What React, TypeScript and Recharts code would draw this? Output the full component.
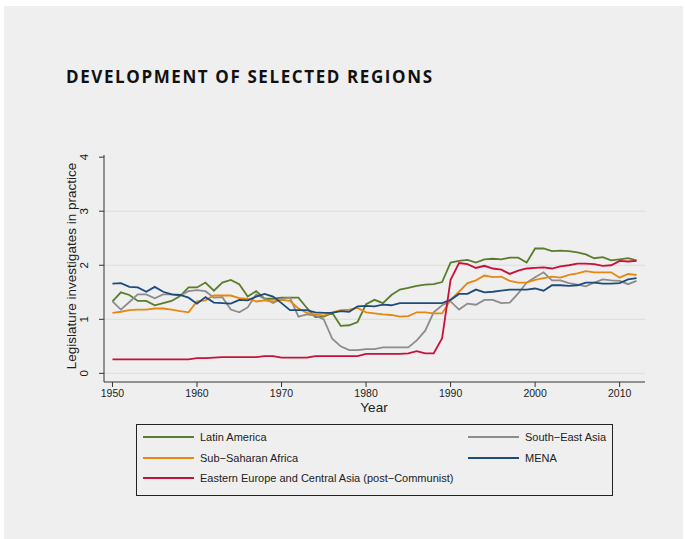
import React from "react"
import { LineChart, Line, XAxis, YAxis, ReferenceLine } from "recharts"

// categories
const years = [
  1950, 1951, 1952, 1953, 1954, 1955, 1956, 1957, 1958, 1959,
  1960, 1961, 1962, 1963, 1964, 1965, 1966, 1967, 1968, 1969,
  1970, 1971, 1972, 1973, 1974, 1975, 1976, 1977, 1978, 1979,
  1980, 1981, 1982, 1983, 1984, 1985, 1986, 1987, 1988, 1989,
  1990, 1991, 1992, 1993, 1994, 1995, 1996, 1997, 1998, 1999,
  2000, 2001, 2002, 2003, 2004, 2005, 2006, 2007, 2008, 2009,
  2010, 2011, 2012,
]

// series values, one per year
const latinAmerica = [
  1.33, 1.5, 1.45, 1.34, 1.34, 1.26, 1.3, 1.34, 1.43, 1.59,
  1.59, 1.68, 1.53, 1.68, 1.73, 1.65, 1.42, 1.52, 1.38, 1.38,
  1.4, 1.4, 1.4, 1.21, 1.04, 1.05, 1.12, 0.88, 0.89, 0.95,
  1.28, 1.36, 1.3, 1.45, 1.55, 1.58, 1.62, 1.64, 1.65, 1.69,
  2.05, 2.08, 2.1, 2.05, 2.11, 2.12, 2.11, 2.14, 2.14, 2.05,
  2.31, 2.31, 2.26, 2.27, 2.26, 2.24, 2.2, 2.13, 2.15, 2.09,
  2.11, 2.13, 2.09,
]
const southEastAsia = [
  1.33, 1.18, 1.32, 1.46, 1.46, 1.39, 1.46, 1.46, 1.44, 1.52,
  1.54, 1.52, 1.4, 1.41, 1.18, 1.13, 1.22, 1.46, 1.38, 1.3,
  1.38, 1.4, 1.05, 1.09, 1.07, 1.0, 0.64, 0.5, 0.43, 0.43,
  0.45, 0.45, 0.48, 0.48, 0.48, 0.48, 0.61, 0.79, 1.13, 1.26,
  1.33, 1.18, 1.29, 1.27, 1.36, 1.36, 1.3, 1.31, 1.48, 1.68,
  1.78, 1.87, 1.72, 1.72, 1.67, 1.64, 1.61, 1.68, 1.74, 1.72,
  1.71, 1.65, 1.71,
]
const subSaharanAfrica = [
  1.12, 1.14, 1.17, 1.18, 1.18, 1.2, 1.2, 1.18, 1.15, 1.13,
  1.33, 1.35, 1.44, 1.44, 1.44, 1.39, 1.38, 1.33, 1.35, 1.33,
  1.36, 1.34, 1.2, 1.12, 1.09, 1.07, 1.13, 1.17, 1.18, 1.21,
  1.13, 1.11, 1.09, 1.08, 1.05, 1.06, 1.13, 1.13, 1.11, 1.11,
  1.36, 1.51, 1.67, 1.72, 1.81, 1.78, 1.79, 1.71, 1.68, 1.68,
  1.73, 1.76, 1.79, 1.77, 1.82, 1.85, 1.89, 1.87, 1.87, 1.87,
  1.77, 1.84, 1.82,
]
const mena = [
  1.66, 1.67, 1.6, 1.59, 1.51, 1.6, 1.51, 1.46, 1.45, 1.4,
  1.29, 1.41, 1.31, 1.3, 1.29, 1.36, 1.35, 1.42, 1.47, 1.42,
  1.3, 1.17, 1.17, 1.17, 1.13, 1.12, 1.12, 1.15, 1.14, 1.24,
  1.25, 1.24, 1.27, 1.26, 1.3, 1.3, 1.3, 1.3, 1.3, 1.3,
  1.36, 1.47, 1.47, 1.55, 1.5, 1.51, 1.53, 1.55, 1.55, 1.55,
  1.57, 1.53, 1.63, 1.63, 1.62, 1.63, 1.68, 1.68, 1.66, 1.66,
  1.67, 1.74, 1.76,
]
const easternEurope = [
  0.26, 0.26, 0.26, 0.26, 0.26, 0.26, 0.26, 0.26, 0.26, 0.26,
  0.28, 0.28, 0.29, 0.3, 0.3, 0.3, 0.3, 0.3, 0.32, 0.32,
  0.29, 0.29, 0.29, 0.29, 0.32, 0.32, 0.32, 0.32, 0.32, 0.32,
  0.36, 0.36, 0.36, 0.36, 0.36, 0.37, 0.41, 0.37, 0.37, 0.65,
  1.73, 2.04, 2.02, 1.95, 1.99, 1.94, 1.92, 1.84, 1.9, 1.94,
  1.95, 1.96, 1.94, 1.98, 2.0, 2.03, 2.03, 2.02, 1.99, 2.0,
  2.08, 2.07, 2.08,
]

// tick labels
const xTicks = [1950, 1960, 1970, 1980, 1990, 2000, 2010]
const yTicks = [0, 1, 2, 3, 4]
const gridValues = [0, 1, 2, 3]

const series = [
  { key: "latin", name: "Latin America", values: latinAmerica, color: "#5a7d2c" },
  { key: "sea", name: "South\u2212East Asia", values: southEastAsia, color: "#8c8c8c" },
  { key: "ssa", name: "Sub\u2212Saharan Africa", values: subSaharanAfrica, color: "#e8870f" },
  { key: "mena", name: "MENA", values: mena, color: "#1c4b7c" },
  { key: "eeca", name: "Eastern Europe and Central Asia (post\u2212Communist)", values: easternEurope, color: "#c8103a" },
]

const data = years.map((year, i) => {
  const row: Record<string, number> = { year }
  series.forEach((s) => {
    row[s.key] = s.values[i]
  })
  return row
})

const axisFont = "'Liberation Sans', Arial, Helvetica, sans-serif"

const YTick = (props: any) => {
  const { x, y, payload } = props
  const tx = x - 11
  return (
    <text
      x={tx}
      y={y}
      transform={`rotate(-90 ${tx} ${y})`}
      textAnchor="middle"
      fontSize={11.5}
      fontFamily={axisFont}
      fill="#1a1a1a"
      stroke="none"
    >
      {payload.value}
    </text>
  )
}

const legendRows = [
  [series[0], series[1]],
  [series[2], series[3]],
  [series[4], null],
]

export default function App() {
  return (
    <div style={{ position: "absolute", left: 0, top: 0, width: 685, height: 539, background: "#fff" }}>
      <div style={{ position: "absolute", left: 4, top: 6, width: 679, height: 533, background: "#efefef" }} />
      <div
        style={{
          position: "absolute",
          left: 66,
          top: 65,
          fontFamily: "'Open Sans', sans-serif",
          fontWeight: 700,
          fontSize: 17,
          letterSpacing: 1.6,
          color: "#111",
          whiteSpace: "nowrap",
        }}
      >
        DEVELOPMENT OF SELECTED REGIONS
      </div>
      <div style={{ position: "absolute", left: 0, top: 0 }}>
        <LineChart
          width={685}
          height={539}
          data={data}
          margin={{ top: 155, right: 40, left: 74, bottom: 137 }}
        >
          {gridValues.map((v) => (
            <ReferenceLine key={v} y={v} stroke="#d8e0e0" strokeWidth={1} />
          ))}
          <XAxis
            dataKey="year"
            type="number"
            domain={[1949, 2013]}
            ticks={xTicks}
            allowDataOverflow
            height={20}
            tickSize={5}
            tickMargin={3}
            stroke="#333"
            tick={{ fontSize: 10.5, fontFamily: axisFont, fill: "#222" }}
          />
          <YAxis
            type="number"
            domain={[-0.16, 4.04]}
            ticks={yTicks}
            allowDataOverflow
            width={30}
            tickSize={5}
            tickMargin={0}
            stroke="#333"
            tick={<YTick />}
          />
          {series.map((s) => (
            <Line
              key={s.key}
              dataKey={s.key}
              type="linear"
              stroke={s.color}
              strokeWidth={1.8}
              dot={false}
              isAnimationActive={false}
            />
          ))}
        </LineChart>
      </div>
      <div
        style={{
          position: "absolute",
          left: 71,
          top: 266,
          transform: "translate(-50%, -50%) rotate(-90deg)",
          fontFamily: axisFont,
          fontSize: 13.5,
          color: "#222",
          whiteSpace: "nowrap",
        }}
      >
        Legislature investigates in practice
      </div>
      <div
        style={{
          position: "absolute",
          left: 374,
          top: 400,
          transform: "translateX(-50%)",
          fontFamily: axisFont,
          fontSize: 13.5,
          color: "#222",
        }}
      >
        Year
      </div>
      <div
        style={{
          position: "absolute",
          left: 136,
          top: 424,
          width: 475,
          height: 70,
          border: "1px solid #222",
          fontFamily: axisFont,
          fontSize: 11,
          color: "#222",
        }}
      >
        {legendRows.map((row, r) =>
          row.map((s, c) =>
            s ? (
              <div
                key={s.key}
                style={{
                  position: "absolute",
                  left: c === 0 ? 6 : 331,
                  top: 5 + r * 20.5,
                  display: "flex",
                  alignItems: "center",
                  whiteSpace: "nowrap",
                  height: 14,
                }}
              >
                <span style={{ display: "inline-block", width: 51, height: 2, background: s.color, marginRight: 6 }} />
                <span>{s.name}</span>
              </div>
            ) : null
          )
        )}
      </div>
    </div>
  )
}
